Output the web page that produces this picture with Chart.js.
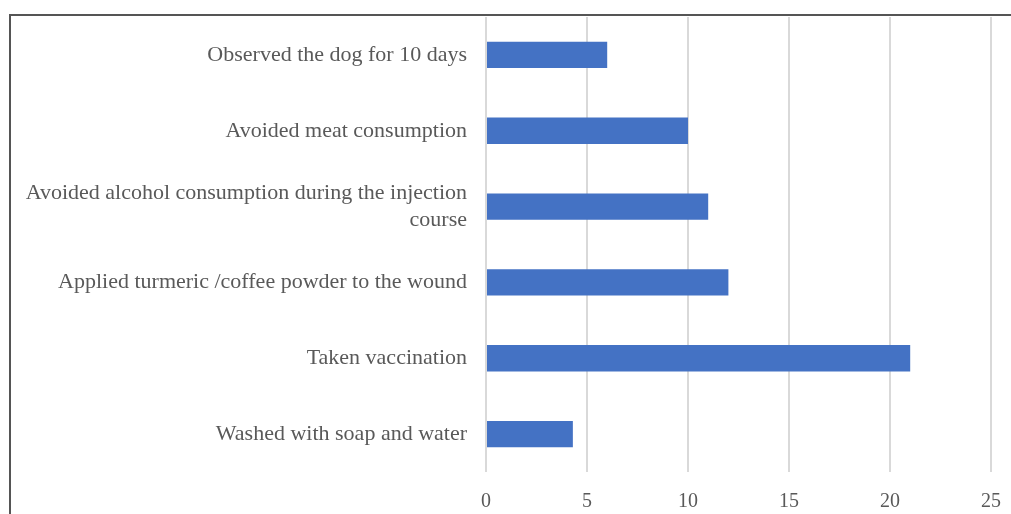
<!DOCTYPE html>
<html>
<head>
<meta charset="utf-8">
<script src="https://cdn.jsdelivr.net/npm/chart.js@4/dist/chart.umd.min.js"></script>
<style>
  html, body { margin: 0; padding: 0; background: #fff; }
  #wrap { position: relative; width: 1011px; height: 514px; }
  #frame { position: absolute; left: 9px; top: 14px; right: -5px; bottom: -5px;
           border-left: 2px solid #555; border-top: 2px solid #555; }
  canvas { position: absolute; left: 0; top: 0; }
</style>
</head>
<body>
<div id="wrap">
  <div id="frame"></div>
  <canvas id="chart" width="1011" height="514"></canvas>
</div>
<script>
// categories, top to bottom
var categories = [
  'Observed the dog for 10 days',
  'Avoided meat consumption',
  ['Avoided alcohol consumption during the injection', 'course'],
  'Applied turmeric /coffee powder to the wound',
  'Taken vaccination',
  'Washed with soap and water'
];
var counts = [6, 10, 11, 12, 21, 4.3];
var xTicks = [0, 5, 10, 15, 20, 25];

var serif = '"Liberation Serif", "Times New Roman", serif';

var ctx = document.getElementById('chart').getContext('2d');
new Chart(ctx, {
  type: 'bar',
  data: {
    labels: categories,
    datasets: [{
      data: counts,
      backgroundColor: '#4472C4',
      borderWidth: 0,
      categoryPercentage: 0.68,
      barPercentage: 0.51
    }]
  },
  options: {
    indexAxis: 'y',
    responsive: false,
    animation: false,
    layout: { padding: { top: 17, right: 20, left: 0, bottom: 0 } },
    plugins: { legend: { display: false }, tooltip: { enabled: false } },
    scales: {
      x: {
        min: 0,
        max: 25,
        afterBuildTicks: function (axis) {
          axis.ticks = xTicks.map(function (v) { return { value: v }; });
        },
        afterFit: function (axis) {
          axis.height = 42;
          axis.paddingLeft = 0;
          axis.paddingRight = 0;
        },
        grid: { color: '#d9d9d9', lineWidth: 2, drawTicks: false },
        border: { display: false },
        ticks: {
          padding: 18,
          color: '#595959',
          font: { family: serif, size: 20 }
        }
      },
      y: {
        afterFit: function (axis) {
          axis.width = 486;
          axis.paddingTop = 0;
          axis.paddingBottom = 0;
        },
        grid: { display: false, drawTicks: false },
        border: { display: false },
        ticks: {
          padding: 19,
          color: '#595959',
          font: { family: serif, size: 22, lineHeight: 1.2 }
        }
      }
    }
  }
});
</script>
</body>
</html>
